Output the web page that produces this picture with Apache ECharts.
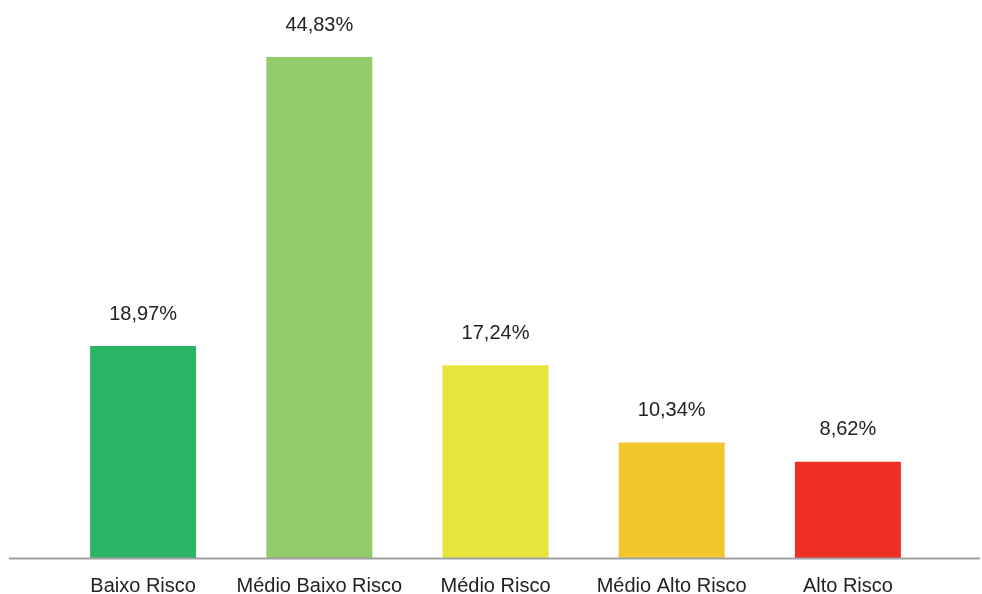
<!DOCTYPE html>
<html>
<head>
<meta charset="utf-8">
<script src="https://cdn.jsdelivr.net/npm/echarts@6/dist/echarts.min.js"></script>
<style>
  html, body { margin: 0; padding: 0; background: #ffffff; }
  #chart { width: 982px; height: 594px; }
</style>
</head>
<body>
<div id="chart"></div>
<script>
// Risk categories and their share (%)
const categories = ['Baixo Risco', 'Médio Baixo Risco', 'Médio Risco', 'Médio Alto Risco', 'Alto Risco'];
const shares = [18.97, 44.83, 17.24, 10.34, 8.62];
const barColors = ['#2bb463', '#92cb69', '#e6e53b', '#f3c62e', '#ee3024'];

const chart = echarts.init(document.getElementById('chart'), null, { renderer: 'canvas' });

const fontFamily = '"Helvetica Neue", Helvetica, "Liberation Sans", Arial, sans-serif';

chart.setOption({
  animation: false,
  backgroundColor: '#ffffff',
  grid: {
    left: 55, right: 46, top: 21.6, bottom: 36,
    containLabel: false,
    outerBoundsMode: 'none'
  },
  xAxis: {
    type: 'category',
    data: categories,
    axisLine: { show: false },
    axisTick: { show: false },
    axisLabel: {
      color: '#222222',
      fontSize: 20,
      fontFamily: fontFamily,
      margin: 18,
      interval: 0
    }
  },
  yAxis: {
    type: 'value',
    min: 0,
    max: 48,
    show: false,
    splitLine: { show: false }
  },
  series: [{
    type: 'bar',
    barWidth: 106,
    data: shares.map((v, i) => ({ value: v, itemStyle: { color: barColors[i] } })),
    label: {
      show: true,
      position: 'top',
      distance: 22,
      color: '#222222',
      fontSize: 20,
      fontFamily: fontFamily,
      formatter: p => p.value.toFixed(2).replace('.', ',') + '%'
    }
  }],
  graphic: [{
    type: 'line',
    shape: { x1: 9, y1: 558.5, x2: 980, y2: 558.5 },
    style: { stroke: '#a0a0a0', lineWidth: 2 },
    z: 10
  }]
});
</script>
</body>
</html>
